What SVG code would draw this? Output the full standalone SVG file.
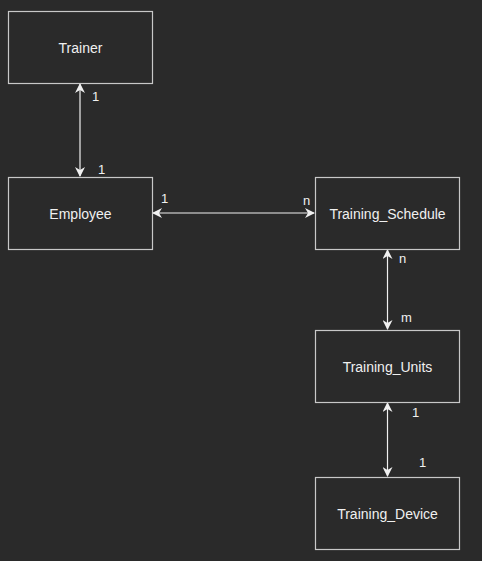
<svg xmlns="http://www.w3.org/2000/svg" width="482" height="561" viewBox="0 0 482 561">
<style>
.box{fill:#2a2a2a;stroke:#c8c8c8;stroke-width:1.2}
.t{font-family:"Liberation Sans",Arial,sans-serif;font-size:14px;fill:#f0f0f0;text-anchor:middle;dominant-baseline:central}
.l{font-family:"Liberation Sans",Arial,sans-serif;font-size:13px;fill:#f0f0f0}
.c{stroke:#f0f0f0;stroke-width:1.2;fill:none;marker-start:url(#a);marker-end:url(#a)}
</style>
<defs>
<marker id="a" viewBox="0 0 10 10" refX="9" refY="5" markerWidth="10" markerHeight="10" markerUnits="userSpaceOnUse" orient="auto-start-reverse">
<path d="M0,0 L10,5 L0,10 L3,5 Z" fill="#f0f0f0"/>
</marker>
</defs>
<rect width="482" height="561" fill="#2a2a2a"/>
<g id="connectors">
<line class="c" x1="80" y1="84" x2="80" y2="176"/>
<line class="c" x1="153" y1="213" x2="314" y2="213"/>
<line class="c" x1="387.5" y1="250" x2="387.5" y2="329"/>
<line class="c" x1="387.5" y1="403" x2="387.5" y2="476"/>
</g>
<g id="labels">
<text class="l" x="92" y="101">1</text>
<text class="l" x="98" y="174">1</text>
<text class="l" x="161" y="203">1</text>
<text class="l" x="303" y="205">n</text>
<text class="l" x="399" y="263">n</text>
<text class="l" x="401" y="322">m</text>
<text class="l" x="412" y="417">1</text>
<text class="l" x="419" y="467">1</text>
</g>
<g id="trainer"><rect class="box" x="8.5" y="11.5" width="144" height="72"/><text class="t" x="80.5" y="47.5">Trainer</text></g>
<g id="employee"><rect class="box" x="8.5" y="177.5" width="144" height="72"/><text class="t" x="80.5" y="213.5">Employee</text></g>
<g id="training_schedule"><rect class="box" x="315.5" y="177.5" width="144" height="72"/><text class="t" x="387.5" y="213.5">Training_Schedule</text></g>
<g id="training_units"><rect class="box" x="315.5" y="330.5" width="144" height="72"/><text class="t" x="387.5" y="366.5">Training_Units</text></g>
<g id="training_device"><rect class="box" x="315.5" y="477.5" width="144" height="72"/><text class="t" x="387.5" y="513.5">Training_Device</text></g>
</svg>
